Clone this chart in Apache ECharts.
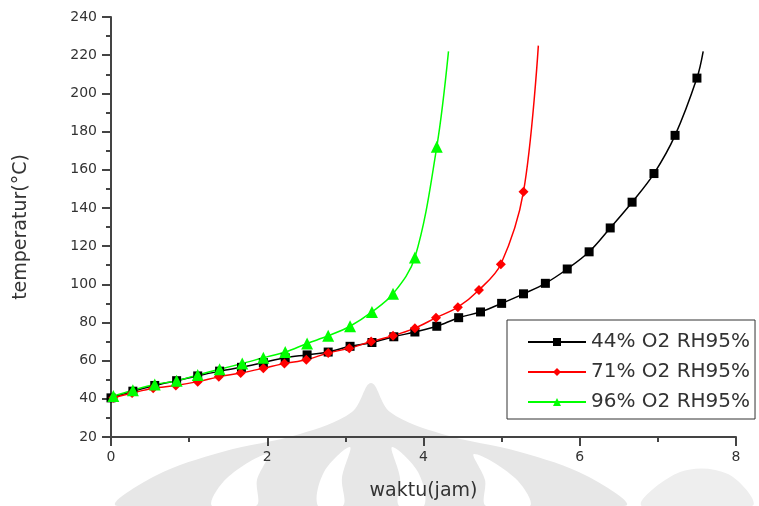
<!DOCTYPE html>
<html>
<head>
<meta charset="utf-8">
<script src="https://cdn.jsdelivr.net/npm/echarts@6/dist/echarts.min.js"></script>
<style>
  html, body { margin: 0; padding: 0; background: #fff; }
  #chart { width: 759px; height: 506px; }
</style>
</head>
<body>
<div id="chart"></div>
<script>
// 44% O2 RH95% (black squares)
const x44 = [0, 0.28, 0.56, 0.84, 1.11, 1.39, 1.67, 1.95, 2.23, 2.51, 2.78, 3.06, 3.34, 3.62,
  3.89, 4.17, 4.45, 4.73, 5.0, 5.28, 5.56, 5.84, 6.12, 6.39, 6.67, 6.95, 7.22, 7.5, 7.58]
const y44 = [40.5, 44, 47, 49.5, 52, 54.5, 56.5, 59, 61.5, 63, 64.5, 67.5, 69.5, 72.5,
  75, 78, 82.5, 85.5, 90, 95, 100.5, 108, 117, 129.5, 143, 158, 178, 208, 222]
// 71% O2 RH95% (red diamonds)
const x71 = [0.03, 0.27, 0.54, 0.83, 1.11, 1.38, 1.66, 1.95, 2.22, 2.5, 2.78, 3.05, 3.33,
  3.61, 3.89, 4.16, 4.44, 4.71, 4.99, 5.28, 5.47]
const y71 = [40.5, 43, 45.5, 47, 49, 51.5, 53.5, 56, 58.5, 60.5, 64, 66.5, 70, 73, 77,
  82.5, 88, 97, 110.5, 148.5, 225]
// 96% O2 RH95% (green triangles)
const x96 = [0.03, 0.28, 0.56, 0.84, 1.11, 1.39, 1.68, 1.95, 2.23, 2.51, 2.78, 3.06, 3.34,
  3.61, 3.89, 4.17, 4.32]
const y96 = [41.5, 44.5, 47.5, 49.5, 52.5, 55.5, 58.5, 61.5, 64.5, 69, 73, 78, 85.5, 95,
  114, 172, 222]

const names = ['44% O2 RH95%', '71% O2 RH95%', '96% O2 RH95%']

// last point of each curve is only the spline end, no marker
function pts(xs, ys) {
  return xs.map((x, i) => i === xs.length - 1 ? { value: [x, ys[i]], symbol: 'none' } : [x, ys[i]])
}

const chart = echarts.init(document.getElementById('chart'))

const font = 'DejaVu Sans'
const axisColor = '#444'

function lineSeries(name, data, color, symbol, size) {
  return {
    name: name,
    type: 'line',
    data: data,
    smooth: 0.35,
    symbol: symbol,
    symbolSize: size,
    lineStyle: { color: color, width: 1.5 },
    itemStyle: { color: color },
    z: 3
  }
}

function blob(points, fill) {
  return { type: 'polygon', silent: true, shape: { points: points, smooth: 0.35 }, style: { fill: fill } }
}

chart.setOption({
  animation: false,
  backgroundColor: '#fff',
  grid: { left: 111, right: 23, top: 17, bottom: 69 },
  graphic: [
    // faint watermark behind the plot
    {
      type: 'group', z: -10, silent: true,
      children: [
        blob([[118, 506], [155, 476], [222, 452], [300, 434], [352, 412], [371, 383], [390, 412], [442, 434], [520, 452], [587, 476], [624, 506]], '#e7e7e7'),
        blob([[212, 506], [227, 478], [268, 454], [257, 480], [256, 506]], '#fff'),
        blob([[318, 506], [324, 472], [350, 447], [342, 478], [343, 506]], '#fff'),
        blob([[424, 506], [418, 472], [392, 447], [400, 478], [399, 506]], '#fff'),
        blob([[530, 506], [515, 478], [474, 454], [485, 480], [486, 506]], '#fff'),
        blob([[642, 506], [680, 472], [728, 474], [752, 506]], '#eeeeee')
      ]
    }
  ],
  legend: {
    orient: 'vertical',
    left: 507,
    top: 320,
    padding: [12, 5, 7, 20],
    itemWidth: 58,
    itemHeight: 10,
    itemGap: 10,
    borderColor: '#333',
    borderWidth: 1,
    backgroundColor: '#fff',
    data: names,
    textStyle: { fontFamily: font, fontSize: 20, color: '#333', lineHeight: 20 }
  },
  xAxis: {
    type: 'value',
    min: 0,
    max: 8,
    interval: 2,
    name: 'waktu(jam)',
    nameLocation: 'middle',
    nameGap: 45,
    nameTextStyle: { fontFamily: font, fontSize: 19, color: '#333' },
    axisLine: { show: true, lineStyle: { color: axisColor, width: 2 } },
    axisTick: { show: true, length: 9, lineStyle: { color: axisColor, width: 2 } },
    minorTick: { show: true, splitNumber: 2, length: 5, lineStyle: { color: axisColor, width: 2 } },
    axisLabel: { fontFamily: font, fontSize: 14, color: '#333', margin: 13 },
    splitLine: { show: false }
  },
  yAxis: {
    type: 'value',
    min: 20,
    max: 240,
    interval: 20,
    name: 'temperatur(°C)',
    nameLocation: 'middle',
    nameGap: 80,
    nameTextStyle: { fontFamily: font, fontSize: 19, color: '#333' },
    axisLine: { show: true, lineStyle: { color: axisColor, width: 2 } },
    axisTick: { show: true, length: 9, lineStyle: { color: axisColor, width: 2 } },
    minorTick: { show: true, splitNumber: 2, length: 5, lineStyle: { color: axisColor, width: 2 } },
    axisLabel: { fontFamily: font, fontSize: 14, color: '#333', margin: 14 },
    splitLine: { show: false }
  },
  series: [
    lineSeries(names[0], pts(x44, y44), '#000000', 'rect', 9),
    lineSeries(names[1], pts(x71, y71), '#ff0000', 'diamond', 10),
    lineSeries(names[2], pts(x96, y96), '#00ff00', 'triangle', 12)
  ]
})
</script>
</body>
</html>
